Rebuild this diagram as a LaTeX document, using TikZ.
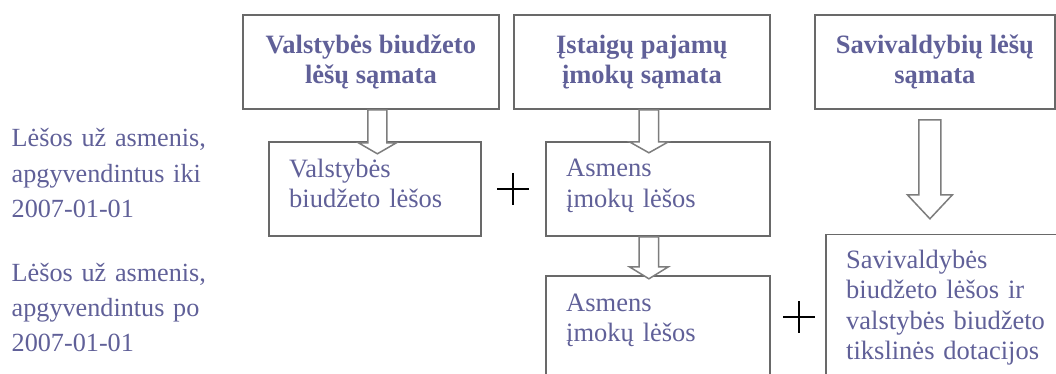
\documentclass[tikz,border=0pt]{standalone}
\usepackage{fontspec}
\setmainfont{Liberation Serif}
\usepackage{xcolor}
\usepackage{tikz}
\usetikzlibrary{calc}
\definecolor{txtblue}{RGB}{96,96,152}
\definecolor{boxgray}{RGB}{105,105,105}
\definecolor{arrgray}{RGB}{125,125,125}
\tikzset{ head_box/.style = {rectangle, draw=boxgray, line width=1.8pt, anchor=north west, minimum width=256pt, minimum height=94pt, inner sep=0pt, align=center, text=txtblue, font=\fontsize{26.5}{30.5}\selectfont\bfseries} }
\tikzset{ fund_box/.style = {rectangle, draw=boxgray, line width=1.8pt, anchor=north west, inner sep=0pt} }
\tikzset{ body_txt/.style = {anchor=base west, inner sep=0pt, text width=220pt, align=left, text=txtblue, font=\fontsize{26.5}{30.5}\selectfont} }
\tikzset{ side_txt/.style = {anchor=base west, inner sep=0pt, text width=220pt, align=left, text=txtblue, font=\fontsize{26.2}{35.3}\selectfont} }
\tikzset{ block_arrow/.style = {draw=arrgray, fill=white, line width=1.5pt, line join=miter} }
\tikzset{ plus_sign/.style = {draw=black, line width=2pt} }

\begin{document}
\begin{tikzpicture}[x=1pt, y=-1pt]
    \path[use as bounding box, clip] (0,0) rectangle (1056,374);
    % estimates
    \node[head_box] (vbs) at (242,14) {Valstybės biudžeto\\lėšų sąmata};
    \node[head_box] (isp) at (513,14) {Įstaigų pajamų\\įmokų sąmata};
    \node[head_box, minimum width=240pt] (svs) at (814,14) {Savivaldybių lėšų\\sąmata};
    % left notes
    \node[side_txt] (iki) at (11.5,147) {Lėšos už asmenis,\\apgyvendintus iki\\2007-01-01};
    \node[side_txt] (po) at (11.5,281) {Lėšos už asmenis,\\apgyvendintus po\\2007-01-01};
    % funds
    \node[fund_box, minimum width=212pt, minimum height=94pt] (vb) at (268,141) {};
    \node[fund_box, minimum width=224pt, minimum height=94pt] (im1) at (545,141) {};
    \node[fund_box, minimum width=224pt, minimum height=130pt] (im2) at (545,275) {};
    \node[fund_box, minimum width=260pt, minimum height=170pt] (sav) at (825,233.5) {};
    \node[body_txt] (vb_txt) at ($(vb.north west)+(21,36)$) {Valstybės\\biudžeto lėšos};
    \node[body_txt] (im1_txt) at ($(im1.north west)+(21,35.5)$) {Asmens\\įmokų lėšos};
    \node[body_txt] (im2_txt) at ($(im2.north west)+(21,36)$) {Asmens\\įmokų lėšos};
    \node[body_txt] (sav_txt) at ($(sav.north west)+(21,34.5)$) {Savivaldybės\\biudžeto lėšos ir\\valstybės biudžeto\\tikslinės dotacijos};
    % block arrows
    \draw[block_arrow] ($(vb.north |- vbs.south)+(-7,0)$) -- ++(0,33) -- ++(-9.5,0) -- ++(19,11) -- ++(19,-11) -- ++(-9.5,0) -- ++(0,-33) -- cycle;
    \draw[block_arrow] ($(im1.north |- isp.south)+(-18.75,0)$) -- ++(0,32) -- ++(-9.75,0) -- ++(19.5,11) -- ++(19.5,-11) -- ++(-9.75,0) -- ++(0,-32) -- cycle;
    \draw[block_arrow] ($(im1.south)+(-18.75,0)$) -- ++(0,30) -- ++(-9.75,0) -- ++(19.5,12) -- ++(19.5,-12) -- ++(-9.75,0) -- ++(0,-30) -- cycle;
    \draw[block_arrow] ($(svs.south)+(-16,10)$) -- ++(0,75) -- ++(-11.5,0) -- ++(22.5,24) -- ++(22.5,-24) -- ++(-11.5,0) -- ++(0,-75) -- cycle;
    % plus signs
    \coordinate (plus_a) at ($(vb.east)!0.5!(im1.west)$);
    \coordinate (plus_b) at (799,317);
    \draw[plus_sign] ($(plus_a)+(-16,0)$) -- ($(plus_a)+(16,0)$) ($(plus_a)+(0,-16)$) -- ($(plus_a)+(0,16)$);
    \draw[plus_sign] ($(plus_b)+(-16,0)$) -- ($(plus_b)+(16,0)$) ($(plus_b)+(0,-16)$) -- ($(plus_b)+(0,16)$);
\end{tikzpicture}
\end{document}
